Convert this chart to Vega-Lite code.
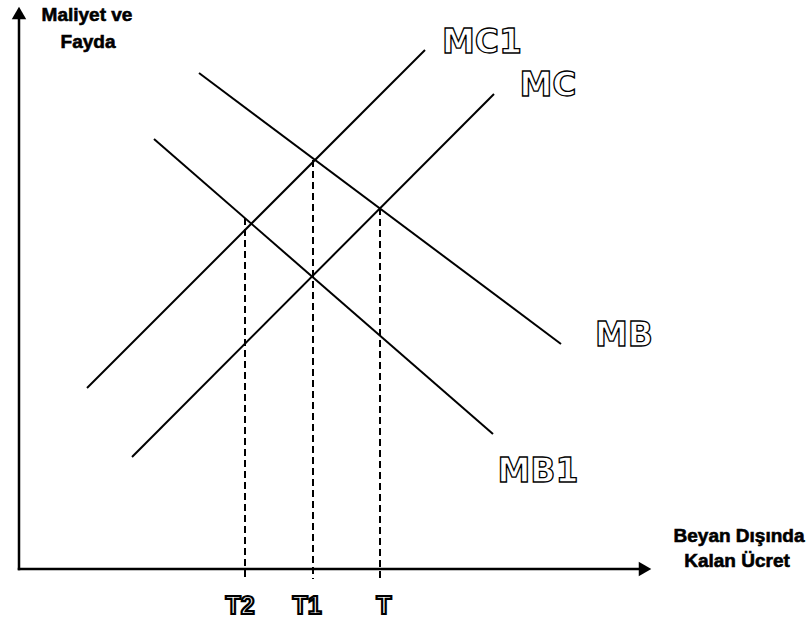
{
  "$schema": "https://vega.github.io/schema/vega-lite/v6.json",
  "width": 807,
  "height": 626,
  "padding": 0,
  "autosize": {"type": "none"},
  "background": "white",
  "config": {"view": {"stroke": null}},
  "datasets": {
    "curves": [
      {"curve": "MC1", "x1": 68, "y1": 181, "x2": 406, "y2": 519},
      {"curve": "MC", "x1": 113, "y1": 112, "x2": 475, "y2": 475},
      {"curve": "MB", "x1": 180, "y1": 496, "x2": 542, "y2": 225},
      {"curve": "MB1", "x1": 135, "y1": 430, "x2": 474, "y2": 135}
    ],
    "guides": [
      {"t": "T2", "x1": 226, "y1": 351, "x2": 226, "y2": -10},
      {"t": "T1", "x1": 294, "y1": 409, "x2": 294, "y2": -10},
      {"t": "T", "x1": 361, "y1": 361, "x2": 361, "y2": -10}
    ],
    "axes": [
      {"axis": "cost", "x1": 0, "y1": 0, "x2": 0, "y2": 554},
      {"axis": "quantity", "x1": 0, "y1": 0, "x2": 624, "y2": 0}
    ],
    "arrows": [
      {"dir": "up", "x": 0, "y": 556},
      {"dir": "right", "x": 626, "y": 0}
    ],
    "curveLabels": [
      {"label": "MC1", "x": 463, "y": 516},
      {"label": "MC", "x": 529, "y": 473},
      {"label": "MB", "x": 605, "y": 223},
      {"label": "MB1", "x": 519, "y": 87}
    ],
    "tLabels": [
      {"label": "T2", "x": 221, "y": -45},
      {"label": "T1", "x": 288, "y": -45},
      {"label": "T", "x": 365, "y": -45}
    ],
    "titles": [
      {"label": "Maliyet ve", "x": 68, "y": 548},
      {"label": "Fayda", "x": 69, "y": 521},
      {"label": "Beyan Dışında", "x": 720, "y": 27},
      {"label": "Kalan Ücret", "x": 718, "y": 2}
    ]
  },
  "encoding": {
    "x": {"field": "x1", "type": "quantitative", "scale": {"domain": [-19, 788], "nice": false, "zero": false}, "axis": null},
    "y": {"field": "y1", "type": "quantitative", "scale": {"domain": [-57, 569], "nice": false, "zero": false}, "axis": null}
  },
  "layer": [
    {
      "data": {"name": "axes"},
      "mark": {"type": "rule", "color": "black", "strokeWidth": 2.5, "strokeCap": "square"},
      "encoding": {"x2": {"field": "x2"}, "y2": {"field": "y2"}}
    },
    {
      "data": {"name": "guides"},
      "mark": {"type": "rule", "color": "black", "strokeWidth": 2, "strokeDash": [7, 4]},
      "encoding": {"x2": {"field": "x2"}, "y2": {"field": "y2"}}
    },
    {
      "data": {"name": "curves"},
      "mark": {"type": "rule", "color": "black", "strokeWidth": 2},
      "encoding": {"x2": {"field": "x2"}, "y2": {"field": "y2"}}
    },
    {
      "data": {"name": "arrows"},
      "mark": {"type": "point", "filled": true, "color": "black", "opacity": 1, "size": 210},
      "encoding": {
        "x": {"field": "x", "type": "quantitative"},
        "y": {"field": "y", "type": "quantitative"},
        "shape": {"field": "dir", "type": "nominal", "scale": {"domain": ["up", "right"], "range": ["triangle-up", "triangle-right"]}, "legend": null}
      }
    },
    {
      "data": {"name": "curveLabels"},
      "mark": {"type": "text", "font": "DejaVu Sans", "fontWeight": "bold", "fontSize": 33, "fill": "white", "stroke": "black", "strokeWidth": 1.3, "align": "center", "baseline": "alphabetic"},
      "encoding": {
        "x": {"field": "x", "type": "quantitative"},
        "y": {"field": "y", "type": "quantitative"},
        "text": {"field": "label"}
      }
    },
    {
      "data": {"name": "tLabels"},
      "mark": {"type": "text", "font": "Liberation Sans", "fontWeight": "bold", "fontSize": 25, "fill": "white", "stroke": "black", "strokeWidth": 2.2, "align": "center", "baseline": "alphabetic"},
      "encoding": {
        "x": {"field": "x", "type": "quantitative"},
        "y": {"field": "y", "type": "quantitative"},
        "text": {"field": "label"}
      }
    },
    {
      "data": {"name": "titles"},
      "mark": {"type": "text", "font": "Liberation Sans", "fontWeight": "bold", "fontSize": 19, "color": "black", "stroke": "black", "strokeWidth": 0.6, "align": "center", "baseline": "alphabetic"},
      "encoding": {
        "x": {"field": "x", "type": "quantitative"},
        "y": {"field": "y", "type": "quantitative"},
        "text": {"field": "label"}
      }
    }
  ]
}
